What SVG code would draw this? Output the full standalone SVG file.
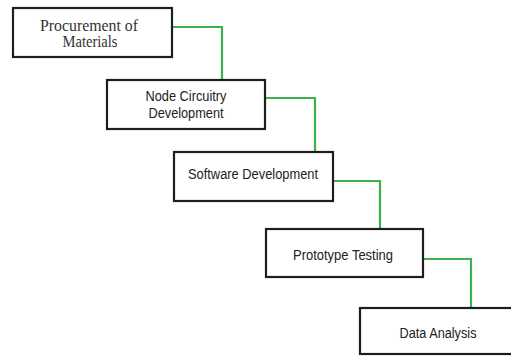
<svg xmlns="http://www.w3.org/2000/svg" width="511" height="359" viewBox="0 0 511 359">
  <style>
    .box { fill: #ffffff; stroke: #1e1e1e; stroke-width: 2.2; }
    .link { fill: none; stroke: #3db04f; stroke-width: 2.2; }
    .lbl { font-family: "Liberation Sans", Arial, sans-serif; font-size: 15.5px; fill: #222; text-anchor: middle; }
    .lbl2 { font-size: 14px; }
    .serif { font-family: "Liberation Serif", "Times New Roman", serif; font-size: 16px; fill: #333; text-anchor: middle; }
  </style>
  <rect width="511" height="359" fill="#ffffff"/>

  <!-- connectors between consecutive stages -->
  <g id="connectors">
    <path class="link" d="M172 27 H222 V80"/>
    <path class="link" d="M265 98 H315 V152"/>
    <path class="link" d="M333 181 H380 V229"/>
    <path class="link" d="M423 259 H471 V308"/>
  </g>

  <g id="procurement">
    <rect class="box" x="13" y="8" width="159" height="49"/>
    <text class="serif" x="89" y="31" textLength="98" lengthAdjust="spacingAndGlyphs">Procurement of</text>
    <text class="serif" x="90" y="47" textLength="55" lengthAdjust="spacingAndGlyphs">Materials</text>
  </g>

  <g id="node-circuitry">
    <rect class="box" x="107" y="80" width="158" height="49"/>
    <text class="lbl lbl2" x="186" y="101" textLength="81" lengthAdjust="spacingAndGlyphs">Node Circuitry</text>
    <text class="lbl lbl2" x="186" y="118" textLength="75" lengthAdjust="spacingAndGlyphs">Development</text>
  </g>

  <g id="software">
    <rect class="box" x="174" y="152" width="159" height="49"/>
    <text class="lbl" x="253" y="179" textLength="130" lengthAdjust="spacingAndGlyphs">Software Development</text>
  </g>

  <g id="prototype">
    <rect class="box" x="266" y="229" width="157" height="48"/>
    <text class="lbl" x="343" y="260" textLength="100" lengthAdjust="spacingAndGlyphs">Prototype Testing</text>
  </g>

  <g id="data-analysis">
    <rect class="box" x="360" y="308" width="160" height="46"/>
    <text class="lbl" x="438" y="338" textLength="77" lengthAdjust="spacingAndGlyphs">Data Analysis</text>
  </g>
</svg>
